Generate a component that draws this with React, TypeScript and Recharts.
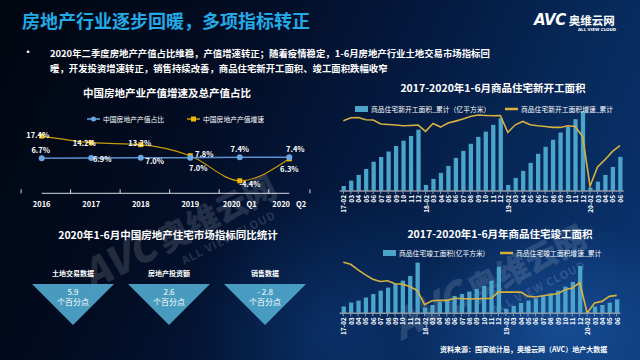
import React from 'react';
import { LineChart, Line, ComposedChart, BarChart, Bar, XAxis, YAxis, LabelList } from 'recharts';

const FONT = '"Noto Sans CJK SC", "Noto Sans", sans-serif';

// 中国房地产业产值增速及总产值占比
const valueYears = ['2016', '2017', '2018', '2019', '2020 Q1', '2020 Q2'];
const valueShare = [6.7, 6.9, 7.0, 7.0, 7.4, 7.4];
const valueGrowth = [17.4, 14.2, 13.2, 7.8, -4.4, 6.3];

// 月份（累计）
const months = [
  '17-02', '03', '04', '05', '06', '07', '08', '09', '10', '11', '12',
  '18-02', '03', '04', '05', '06', '07', '08', '09', '10', '11', '12',
  '19-02', '03', '04', '05', '06', '07', '08', '09', '10', '11', '12',
  '20-02', '03', '04', '05', '06',
];

// 商品住宅新开工面积_累计（亿平方米）
const startArea = [
  1.05, 2.17, 3.36, 4.6, 6.1, 7.1, 8.25, 9.4, 10.5, 11.5, 12.8,
  1.26, 2.52, 3.78, 5.24, 6.92, 8.39, 9.86, 11.3, 12.4, 13.8, 15.2,
  1.26, 2.73, 4.2, 5.87, 7.76, 9.23, 10.7, 12.2, 13.4, 15.0, 16.6,
  0.7, 1.96, 3.36, 5.03, 7.13,
];
// 商品住宅新开工面积增速_累计（%）
const startGrowth = [
  14.8, 17.6, 17.9, 15.7, 15.5, 11.8, 11.4, 10.9, 10.2, 10.5, 10.9,
  5.0, 12.3, 9.0, 12.7, 14.5, 16.4, 18.8, 20.1, 19.7, 19.4, 19.7,
  4.1, 11.1, 14.2, 11.1, 10.2, 9.6, 8.7, 8.7, 10.2, 9.6, 0.4,
  -45.6, -27.8, -21.1, -13.4, -8.2,
];

// 商品住宅竣工面积（亿平方米）
const doneArea = [
  0.95, 1.52, 1.8, 2.23, 2.75, 3.22, 3.65, 4.17, 4.64, 5.31, 7.2,
  0.81, 1.18, 1.66, 1.99, 2.46, 2.75, 3.08, 3.46, 3.89, 4.64, 6.63,
  0.62, 1.04, 1.47, 1.8, 2.13, 2.46, 2.84, 3.22, 3.79, 4.45, 6.73,
  0.25, 0.95, 1.18, 1.52, 1.99,
];
// 商品住宅竣工面积增速_累计（%）
const doneGrowth = [
  29.2, 26.6, 19.2, 12.7, 7.0, 3.9, 4.8, 0.9, 0.4, -2.6, -7.9,
  -26.7, -21.4, -21.0, -21.0, -18.4, -18.4, -19.2, -18.8, -18.4, -18.4, -10.1,
  -10.1, -10.1, -10.1, -15.7, -16.6, -14.9, -13.6, -12.2, -7.0, -4.8, 2.6,
  -37.6, -24.5, -22.3, -15.7, -14.4,
];

// 2020年1-6月 同比统计
const indicators = ['土地交易数据', '房地产投资额', '销售数据'];
const indicatorChange = [5.9, 2.6, -2.8];

const valueData = valueYears.map((year, i) => ({ year, share: valueShare[i], growth: valueGrowth[i] }));
const startData = months.map((month, i) => ({ month, area: startArea[i], growth: startGrowth[i] }));
const doneData = months.map((month, i) => ({ month, area: doneArea[i], growth: doneGrowth[i] }));
const indicatorData = indicators.map((name, i) => ({ name, change: indicatorChange[i] }));

const BAR_BLUE = '#4ba4c9';
const GOLD = '#d8b040';

// label offsets (dx, dy) for each point
const shareLabelOffset = [[-1, -9], [11, 0], [14, 3], [8, 10], [0, -9], [6, -9]];
const growthLabelOffset = [[-4, -2], [-7, 0], [-1, -2], [14, -2], [10, 3], [0, 10]];

const makeLabel = (offsets: number[][]) => (props: any) => {
  const { x, y, value, index } = props;
  const [dx, dy] = offsets[index] || [0, -8];
  return (
    <text
      x={x + dx}
      y={y + dy}
      textAnchor="middle"
      dominantBaseline="central"
      fill="#fff"
      fontSize={7.5}
      fontWeight={700}
      fontFamily={FONT}
    >
      {`${Number(value).toFixed(1)}%`}
    </text>
  );
};

const SquareDot = (p: any) => (
  <rect key={`sq-${p.index}`} x={p.cx - 2.5} y={p.cy - 2.5} width={5} height={5} fill="#f4b800" />
);

const BAND_HALF = 20.6;
const YearTick = (props: any) => {
  const { x, y, payload } = props;
  const last = payload.value === valueYears[valueYears.length - 1];
  const parts = String(payload.value).split(' ');
  return (
    <g>
      <line x1={x - BAND_HALF} x2={x - BAND_HALF} y1={y} y2={y - 4} stroke="#d5dbe3" />
      {last && <line x1={x + BAND_HALF} x2={x + BAND_HALF} y1={y} y2={y - 4} stroke="#d5dbe3" />}
      <text x={x} y={y + 10} textAnchor="middle" dominantBaseline="central" fill="#fff" fontSize={7.5} fontWeight={700} fontFamily={FONT}>
        {parts[0]}
        {parts[1] && <tspan dx={6}>{parts[1]}</tspan>}
      </text>
    </g>
  );
};

const MonthTick = (props: any) => {
  const { x, y, payload } = props;
  return (
    <text
      x={x}
      y={y}
      transform={`rotate(-90 ${x} ${y})`}
      textAnchor="end"
      dominantBaseline="central"
      fill="#fff"
      fontSize={6.5}
      fontWeight={700}
      fontFamily={FONT}
    >
      {payload.value}
    </text>
  );
};

const TriangleShape = (props: any) => {
  const bg = props.background || props;
  const cx = props.x + props.width / 2;
  const top = bg.y;
  const h = bg.height;
  const half = 41;
  const v = props.payload.change;
  return (
    <g>
      <polygon points={`${cx - half},${top} ${cx + half},${top} ${cx},${top + h}`} fill="#4ea7cc" fillOpacity={0.92} />
      <text x={cx} y={top + 7} textAnchor="middle" dominantBaseline="central" fill="#fff" fontSize={8} fontFamily={FONT}>
        {v < 0 ? `- ${Math.abs(v).toFixed(1)}` : v.toFixed(1)}
      </text>
      <text x={cx} y={top + 17.5} textAnchor="middle" dominantBaseline="central" fill="#fff" fontSize={8} fontFamily={FONT}>
        个百分点
      </text>
    </g>
  );
};

const legendText: React.CSSProperties = { fontSize: 6.8, color: '#fff', whiteSpace: 'nowrap', lineHeight: '10px' };

function LegendItem({ left, top, kind, color, label }: { left: number; top: number; kind: string; color: string; label: string }) {
  return (
    <div style={{ position: 'absolute', left, top, display: 'flex', alignItems: 'center' }}>
      <svg width={14} height={10} style={{ marginRight: 2 }}>
        {kind === 'bar' && <rect x={0} y={2} width={13} height={6} fill={color} />}
        {kind !== 'bar' && <line x1={0} x2={13} y1={5} y2={5} stroke={color} strokeWidth={kind === 'line' ? 2.5 : 1.5} />}
        {kind === 'dot' && <circle cx={6.5} cy={5} r={2.5} fill={color} />}
        {kind === 'square' && <rect x={4} y={2.5} width={5} height={5} fill="#f4b800" />}
      </svg>
      <span style={legendText}>{label}</span>
    </div>
  );
}

const sectionTitle: React.CSSProperties = {
  position: 'absolute',
  fontSize: 10.5,
  fontWeight: 700,
  color: '#fff',
  whiteSpace: 'nowrap',
  lineHeight: '13px',
  transform: 'translateX(-50%)',
};

export default function App() {
  return (
    <div
      style={{
        position: 'absolute',
        left: 0,
        top: 0,
        width: 640,
        height: 360,
        overflow: 'hidden',
        fontFamily: FONT,
        color: '#fff',
        background:
          'radial-gradient(ellipse 220px 160px at 560px 330px, rgba(40,110,200,0.45), rgba(0,0,0,0) 70%), radial-gradient(ellipse 200px 200px at 330px 330px, rgba(20,80,160,0.35), rgba(0,0,0,0) 70%), linear-gradient(115deg, #01060f 0%, #020c22 30%, #041a40 55%, #07295a 75%, #0a3572 100%)',
      }}
    >
      {/* watermarks */}
      <div style={{ position: 'absolute', left: 70, top: 250, transform: 'rotate(-27deg)', transformOrigin: 'left top', opacity: 0.13, whiteSpace: 'nowrap' }}>
        <span style={{ fontSize: 40, fontWeight: 900, fontStyle: 'italic' }}>AVC</span>
        <span style={{ fontSize: 32, fontWeight: 900, marginLeft: 6 }}>奥维云网</span>
        <div style={{ fontSize: 11, fontWeight: 700, marginLeft: 95, marginTop: -6, letterSpacing: 1 }}>ALL VIEW CLOUD</div>
      </div>
      <div style={{ position: 'absolute', left: 380, top: 300, transform: 'rotate(-27deg)', transformOrigin: 'left top', opacity: 0.13, whiteSpace: 'nowrap' }}>
        <span style={{ fontSize: 40, fontWeight: 900, fontStyle: 'italic' }}>AVC</span>
        <span style={{ fontSize: 32, fontWeight: 900, marginLeft: 6 }}>奥维云网</span>
        <div style={{ fontSize: 11, fontWeight: 700, marginLeft: 95, marginTop: -6, letterSpacing: 1 }}>ALL VIEW CLOUD</div>
      </div>

      {/* header */}
      <div style={{ position: 'absolute', left: 22, top: 8, fontSize: 18, fontWeight: 700, color: '#22a9e6', lineHeight: '24px', whiteSpace: 'nowrap' }}>
        房地产行业逐步回暖，多项指标转正
      </div>
      <div style={{ position: 'absolute', left: 534, top: 11, whiteSpace: 'nowrap', display: 'flex', alignItems: 'center' }}>
        <span style={{ fontSize: 15, fontWeight: 900, fontStyle: 'italic', fontFamily: '"DejaVu Sans", sans-serif', letterSpacing: -0.5 }}>AVC</span>
        <span style={{ fontSize: 11.5, fontWeight: 700, marginLeft: 3 }}>奥维云网</span>
      </div>
      <div style={{ position: 'absolute', left: 578, top: 27, fontSize: 4, fontWeight: 700, whiteSpace: 'nowrap', fontFamily: '"DejaVu Sans", sans-serif' }}>
        ALL VIEW CLOUD
      </div>
      <div style={{ position: 'absolute', left: 23, top: 44, fontSize: 10, fontWeight: 700 }}>•</div>
      <div style={{ position: 'absolute', left: 50, top: 46, fontSize: 9.4, fontWeight: 700, lineHeight: '15px', whiteSpace: 'nowrap' }}>
        <div>2020年二季度房地产产值占比维稳，产值增速转正；随着疫情稳定，1-6月房地产行业土地交易市场指标回</div>
        <div>暖，开发投资增速转正，销售持续改善，商品住宅新开工面积、竣工面积跌幅收窄</div>
      </div>

      {/* top-left: 产值 */}
      <div style={{ ...sectionTitle, left: 167, top: 86 }}>中国房地产业产值增速及总产值占比</div>
      <div style={{ position: 'absolute', left: 0, top: 110 }}>
        <LineChart width={320} height={110} data={valueData} margin={{ top: 15, right: 30.7, left: 41.7, bottom: 6.7 }}>
          <XAxis
            dataKey="year"
            height={20}
            axisLine={{ stroke: '#d5dbe3' }}
            tickLine={false}
            tickSize={0}
            tickMargin={0}
            interval={0}
            tick={<YearTick />}
          />
          <YAxis yAxisId="share" hide domain={[-17.8, 30]} />
          <YAxis yAxisId="growth" hide domain={[-10.5, 22.8]} />
          <Line
            yAxisId="growth"
            type="monotone"
            dataKey="growth"
            stroke="#c99a08"
            strokeWidth={1.2}
            dot={SquareDot}
            isAnimationActive={false}
          >
            <LabelList dataKey="growth" content={makeLabel(growthLabelOffset)} />
          </Line>
          <Line
            yAxisId="share"
            type="linear"
            dataKey="share"
            stroke="#5a8fcf"
            strokeWidth={1.5}
            dot={{ r: 3, fill: '#69a6e2', stroke: 'none' }}
            isAnimationActive={false}
          >
            <LabelList dataKey="share" content={makeLabel(shareLabelOffset)} />
          </Line>
        </LineChart>
      </div>
      <LegendItem left={87} top={114} kind="dot" color="#69a6e2" label="中国房地产产值占比" />
      <LegendItem left={187} top={114} kind="square" color="#c99a08" label="中国房地产产值增速" />

      {/* bottom-left: 同比统计 */}
      <div style={{ ...sectionTitle, left: 168, top: 228 }}>2020年1-6月中国房地产住宅市场指标同比统计</div>
      <div style={{ position: 'absolute', left: 0, top: 255 }}>
        <BarChart width={340} height={80} data={indicatorData} margin={{ top: 15, right: 27, left: 25, bottom: 10 }} barCategoryGap={0}>
          <XAxis
            dataKey="name"
            orientation="top"
            height={14}
            axisLine={false}
            tickLine={false}
            interval={0}
            tick={{ fill: '#fff', fontSize: 7, fontWeight: 700, fontFamily: FONT }}
          />
          <YAxis hide domain={[-10, 10]} />
          <Bar dataKey="change" shape={<TriangleShape />} isAnimationActive={false} />
        </BarChart>
      </div>

      {/* top-right: 新开工 */}
      <div style={{ ...sectionTitle, left: 493, top: 81 }}>2017-2020年1-6月商品住宅新开工面积</div>
      <div style={{ position: 'absolute', left: 320, top: 95 }}>
        <ComposedChart width={320} height={125} data={startData} margin={{ top: 5, right: 16.3, left: 19.6, bottom: 4 }}>
          <XAxis
            dataKey="month"
            height={25}
            interval={0}
            axisLine={{ stroke: '#8e9aa8', strokeWidth: 1.5 }}
            tickLine={{ stroke: '#8e9aa8' }}
            tickSize={3}
            tickMargin={1}
            tick={<MonthTick />}
          />
          <YAxis yAxisId="area" hide domain={[0, 19]} />
          <YAxis yAxisId="growth" orientation="right" hide domain={[-50, 34]} />
          <Bar yAxisId="area" dataKey="area" fill={BAR_BLUE} barSize={4.3} isAnimationActive={false} />
          <Line yAxisId="growth" type="linear" dataKey="growth" stroke={GOLD} strokeWidth={1.6} dot={false} isAnimationActive={false} />
        </ComposedChart>
      </div>
      <LegendItem left={355} top={104} kind="bar" color={BAR_BLUE} label="商品住宅新开工面积_累计（亿平方米）" />
      <LegendItem left={505} top={104} kind="line" color={GOLD} label="商品住宅新开工面积增速_累计" />

      {/* bottom-right: 竣工 */}
      <div style={{ ...sectionTitle, left: 500, top: 227 }}>2017-2020年1-6月年商品住宅竣工面积</div>
      <div style={{ position: 'absolute', left: 320, top: 245 }}>
        <ComposedChart width={320} height={100} data={doneData} margin={{ top: 8.5, right: 19.6, left: 19.6, bottom: 6.7 }}>
          <XAxis
            dataKey="month"
            height={25}
            interval={0}
            axisLine={{ stroke: '#8e9aa8', strokeWidth: 1.5 }}
            tickLine={{ stroke: '#8e9aa8' }}
            tickSize={3}
            tickMargin={1}
            tick={<MonthTick />}
          />
          <YAxis yAxisId="area" hide domain={[0, 8.5]} />
          <YAxis yAxisId="growth" orientation="right" hide domain={[-38, 40.8]} allowDataOverflow />
          <Bar yAxisId="area" dataKey="area" fill={BAR_BLUE} barSize={4.3} isAnimationActive={false} />
          <Line yAxisId="growth" type="linear" dataKey="growth" stroke={GOLD} strokeWidth={1.6} dot={false} isAnimationActive={false} />
        </ComposedChart>
      </div>
      <LegendItem left={383} top={247.5} kind="bar" color={BAR_BLUE} label="商品住宅竣工面积(亿平方米)" />
      <LegendItem left={500} top={247.5} kind="line" color={GOLD} label="商品住宅竣工面积增速_累计" />

      <div style={{ position: 'absolute', left: 440, top: 344, fontSize: 7, fontWeight: 700, whiteSpace: 'nowrap', lineHeight: '10px' }}>
        资料来源：国家统计局，奥维云网（AVC）地产大数据
      </div>
    </div>
  );
}
